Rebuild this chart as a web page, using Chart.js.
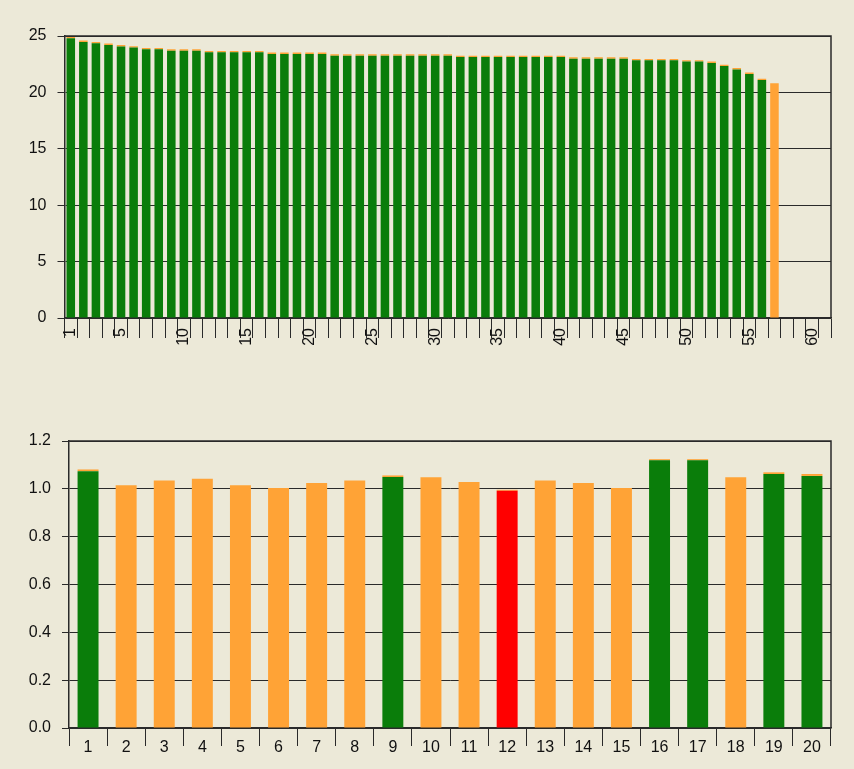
<!DOCTYPE html>
<html>
<head>
<meta charset="utf-8">
<script src="https://cdn.jsdelivr.net/npm/chart.js@4/dist/chart.umd.min.js"></script>
<style>
  body { margin: 0; background: #ece9d8; }
  #top, #bottom { position: absolute; left: 0; }
  #top { top: 0; }
  #bottom { top: 385px; }
</style>
</head>
<body>
<canvas id="top" width="854" height="385"></canvas>
<canvas id="bottom" width="854" height="384"></canvas>
<script>
// top chart: 61 slots, 57 bars
const topLabels = ['1','2','3','4','5','6','7','8','9','10','11','12','13','14','15','16','17','18','19','20',
  '21','22','23','24','25','26','27','28','29','30','31','32','33','34','35','36','37','38','39','40',
  '41','42','43','44','45','46','47','48','49','50','51','52','53','54','55','56','57','58','59','60','61'];
const topShownTicks = ['1','5','10','15','20','25','30','35','40','45','50','55','60'];
const topGreen = [24.79, 24.47, 24.35, 24.21, 24.08, 23.97, 23.82, 23.82, 23.70, 23.70, 23.70,
  23.55, 23.55, 23.55, 23.55, 23.55,
  23.41, 23.41, 23.41, 23.41, 23.41,
  23.26, 23.26, 23.26, 23.26, 23.26, 23.26, 23.26, 23.26, 23.26, 23.26,
  23.14, 23.14, 23.14, 23.14, 23.14, 23.14, 23.14, 23.14, 23.14,
  22.99, 22.99, 22.99, 22.99, 22.99,
  22.84, 22.84, 22.84, 22.84,
  22.73, 22.73,
  22.61, 22.34, 22.04, 21.64, 21.10, 0];
const topOrange = [0.12, 0.12, 0.12, 0.12, 0.12, 0.12, 0.12, 0.12, 0.12, 0.12, 0.12,
  0.12, 0.12, 0.12, 0.12, 0.12,
  0.12, 0.12, 0.12, 0.12, 0.12,
  0.12, 0.12, 0.12, 0.12, 0.12, 0.12, 0.12, 0.12, 0.12, 0.12,
  0.12, 0.12, 0.12, 0.12, 0.12, 0.12, 0.12, 0.12, 0.12,
  0.12, 0.12, 0.12, 0.12, 0.12,
  0.12, 0.12, 0.12, 0.12,
  0.12, 0.12,
  0.12, 0.12, 0.12, 0.12, 0.12, 20.81];

// bottom chart: 20 bars, status g / o / r
const bottomLabels = ['1','2','3','4','5','6','7','8','9','10','11','12','13','14','15','16','17','18','19','20'];
const bottomValues = [1.074, 1.015, 1.035, 1.042, 1.015, 1.003, 1.024, 1.035, 1.049, 1.048,
  1.029, 0.992, 1.035, 1.024, 1.003, 1.119, 1.119, 1.048, 1.062, 1.054];
const bottomCaps = [0.007, 0, 0, 0, 0, 0, 0, 0, 0.007, 0, 0, 0.004, 0, 0, 0, 0.005, 0.005, 0, 0.007, 0.008];
const bottomStatus = ['g','o','o','o','o','o','o','o','g','o','o','r','o','o','o','g','g','o','g','g'];

const GREEN = '#0a7d0a', ORANGE = '#ffa336', RED = '#ff0000', LINE = '#2a2a2a';
const statusColor = { g: GREEN, o: ORANGE, r: RED };

Chart.defaults.font.family = "'Liberation Sans', Arial, sans-serif";
Chart.defaults.font.size = 16;
Chart.defaults.color = '#111';

// right-hand frame line of the plot area
const frame = {
  id: 'frame',
  afterDraw(chart) {
    const { ctx, chartArea: a } = chart;
    ctx.save();
    ctx.strokeStyle = LINE;
    ctx.lineWidth = 1.5;
    ctx.beginPath();
    ctx.moveTo(a.left, a.top);
    ctx.lineTo(a.right, a.top);
    ctx.lineTo(a.right, a.bottom);
    ctx.stroke();
    ctx.restore();
  }
};

new Chart(document.getElementById('top'), {
  type: 'bar',
  data: {
    labels: topLabels,
    datasets: [
      { data: topGreen, backgroundColor: GREEN, barPercentage: 0.68, categoryPercentage: 1 },
      { data: topOrange, backgroundColor: ORANGE, barPercentage: 0.68, categoryPercentage: 1 }
    ]
  },
  options: {
    responsive: false,
    animation: false,
    devicePixelRatio: 1,
    layout: { padding: { left: 0, right: 23, top: 36, bottom: 0 } },
    plugins: { legend: { display: false }, tooltip: { enabled: false } },
    scales: {
      x: {
        stacked: true,
        grid: { offset: true, drawOnChartArea: false, tickLength: 20, color: LINE },
        border: { color: LINE, width: 1.5 },
        ticks: {
          autoSkip: false, minRotation: 90, maxRotation: 90, padding: -10,
          callback: function (v) {
            const l = this.getLabelForValue(v);
            return topShownTicks.includes(l) ? l : '';
          }
        },
        afterFit: s => { s.height = 67; }
      },
      y: {
        stacked: true, min: 0, max: 25,
        grid: { color: LINE, tickLength: 7 },
        border: { color: LINE, width: 1.5 },
        ticks: { stepSize: 5, padding: 11 },
        afterFit: s => { s.width = 64.5; }
      }
    }
  },
  plugins: [frame]
});

new Chart(document.getElementById('bottom'), {
  type: 'bar',
  data: {
    labels: bottomLabels,
    datasets: [
      { data: bottomValues, backgroundColor: bottomStatus.map(s => statusColor[s]), barPercentage: 0.55, categoryPercentage: 1 },
      { data: bottomCaps, backgroundColor: ORANGE, barPercentage: 0.55, categoryPercentage: 1 }
    ]
  },
  options: {
    responsive: false,
    animation: false,
    devicePixelRatio: 1,
    layout: { padding: { left: 0, right: 23, top: 56, bottom: 0 } },
    plugins: { legend: { display: false }, tooltip: { enabled: false } },
    scales: {
      x: {
        stacked: true,
        grid: { offset: true, drawOnChartArea: false, tickLength: 18, color: LINE },
        border: { color: LINE, width: 1.5 },
        ticks: { autoSkip: false, maxRotation: 0, padding: -8 },
        afterFit: s => { s.height = 41; }
      },
      y: {
        stacked: true, min: 0, max: 1.2,
        grid: { color: LINE, tickLength: 7 },
        border: { color: LINE, width: 1.5 },
        ticks: { stepSize: 0.2, padding: 11, callback: v => v.toFixed(1) },
        afterFit: s => { s.width = 69; }
      }
    }
  },
  plugins: [frame]
});
</script>
</body>
</html>
